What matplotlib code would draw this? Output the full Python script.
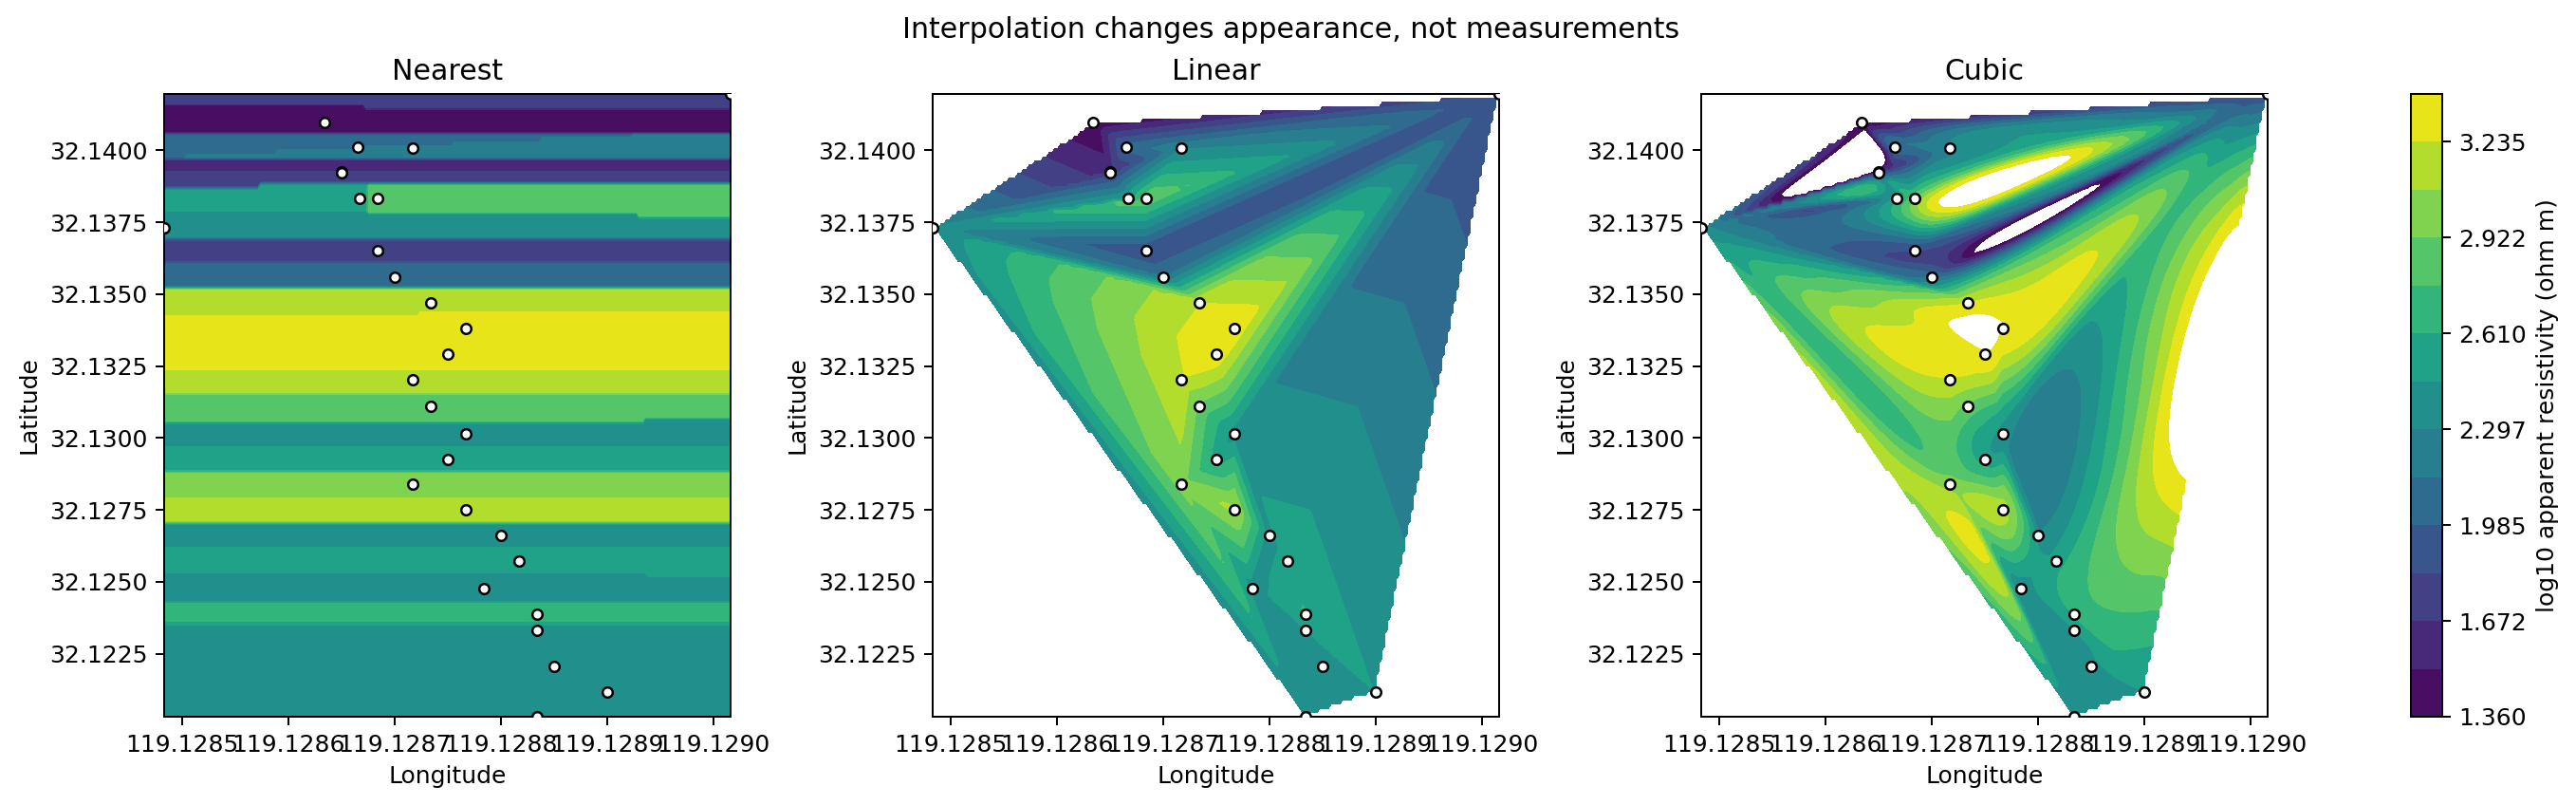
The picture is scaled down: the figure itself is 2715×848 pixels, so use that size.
import numpy as np
import matplotlib
matplotlib.use("Agg")
import matplotlib.pyplot as plt
import matplotlib.tri as mtri

lon = [119.129016, 119.128634, 119.128665, 119.128717, 119.128650, 119.128650,
       119.128667, 119.128684, 119.128483, 119.128684, 119.128700, 119.128734,
       119.128767, 119.128750, 119.128717, 119.128734, 119.128767, 119.128750,
       119.128717, 119.128767, 119.128800, 119.128817, 119.128784, 119.128834,
       119.128834, 119.128850, 119.128900, 119.128834]
lat = [32.14196, 32.14097, 32.14012, 32.14009, 32.13925, 32.13921,
       32.13832, 32.13832, 32.13731, 32.13650, 32.13560, 32.13471,
       32.13381, 32.13293, 32.13204, 32.13109, 32.13015, 32.12927,
       32.12840, 32.12752, 32.12662, 32.12573, 32.12478, 32.12389,
       32.12332, 32.12207, 32.12116, 32.12031]
log_rho = [1.825, 1.36, 2.05, 2.28, 1.60, 1.75,
           2.47, 2.90, 2.34, 1.825, 2.13, 3.23,
           3.391, 3.38, 3.22, 2.88, 2.38, 2.53,
           3.00, 3.13, 2.38, 2.53, 2.38, 2.63,
           2.45, 2.44, 2.45, 2.33]

titles = ['Nearest', 'Linear', 'Cubic']
n_bands = 13
W, H = 2715, 848

lon = np.array(lon)
lat = np.array(lat)
log_rho = np.array(log_rho)
levels = np.linspace(log_rho.min(), log_rho.max(), n_bands + 1)

xi = np.linspace(lon.min(), lon.max(), 200)
yi = np.linspace(lat.min(), lat.max(), 150)
gx, gy = np.meshgrid(xi, yi)

tri = mtri.Triangulation(lon, lat)

def nearest(gx, gy):
    d = (gx[..., None] - lon) ** 2 + (gy[..., None] - lat) ** 2
    return log_rho[d.argmin(axis=-1)]

def global_gradients(tri, f, n_iter=400):
    # gradient estimate over raw coordinates (curvature minimising sweeps)
    x, y = tri.x, tri.y
    df = np.zeros((len(x), 2))
    nbrs = [set() for _ in x]
    for a, b in tri.edges:
        nbrs[a].add(b)
        nbrs[b].add(a)
    for _ in range(n_iter):
        for i in range(len(x)):
            q0 = q1 = q2 = s0 = s1 = 0.0
            for j in nbrs[i]:
                ex, ey = x[j] - x[i], y[j] - y[i]
                l3 = np.hypot(ex, ey) ** 3
                d2 = -ex * df[j, 0] - ey * df[j, 1]
                q0 += 4 * ex * ex / l3
                q1 += 4 * ex * ey / l3
                q2 += 4 * ey * ey / l3
                s0 += (6 * (f[i] - f[j]) - 2 * d2) * ex / l3
                s1 += (6 * (f[i] - f[j]) - 2 * d2) * ey / l3
            det = q0 * q2 - q1 * q1
            df[i, 0] = -(q2 * s0 - q1 * s1) / det
            df[i, 1] = -(-q1 * s0 + q0 * s1) / det
    return df[:, 0], df[:, 1]

grids = [nearest(gx, gy),
         mtri.LinearTriInterpolator(tri, log_rho)(gx, gy),
         mtri.CubicTriInterpolator(tri, log_rho, kind='user',
                                   dz=global_gradients(tri, log_rho))(gx, gy)]

fig = plt.figure(figsize=(W / 180, H / 180), dpi=180)
lefts = [173, 983, 1793]
for left, name, zi in zip(lefts, titles, grids):
    ax = fig.add_axes([left / W, 1 - 755 / H, 597 / W, 656 / H])
    cf = ax.contourf(gx, gy, zi, levels=levels, cmap='viridis')
    ax.scatter(lon, lat, s=18, c='white', edgecolors='black', linewidths=1.0, zorder=3)
    ax.set_xlim(lon.min(), lon.max())
    ax.set_ylim(lat.min(), lat.max())
    ax.set_xticks([119.1285, 119.1286, 119.1287, 119.1288, 119.1289, 119.1290])
    ax.set_xticklabels(['119.1285', '119.1286', '119.1287', '119.1288', '119.1289', '119.1290'])
    ax.set_yticks([32.1225, 32.1250, 32.1275, 32.1300, 32.1325, 32.1350, 32.1375, 32.1400])
    ax.set_yticklabels(['32.1225', '32.1250', '32.1275', '32.1300', '32.1325', '32.1350', '32.1375', '32.1400'])
    ax.set_title(name)
    ax.set_xlabel('Longitude')
    ax.set_ylabel('Latitude')

cax = fig.add_axes([2541 / W, 1 - 755 / H, 33 / W, 656 / H])
cb = fig.colorbar(cf, cax=cax)
cb.set_label('log10 apparent resistivity (ohm m)')
cb.set_ticks(levels[::2])
cb.set_ticklabels(['%.3f' % v for v in levels[::2]])

fig.text(0.5 + 3 / W, 1 - 31 / H, 'Interpolation changes appearance, not measurements',
         ha='center', va='center', fontsize=12)
fig.savefig('out.png', dpi=180)
